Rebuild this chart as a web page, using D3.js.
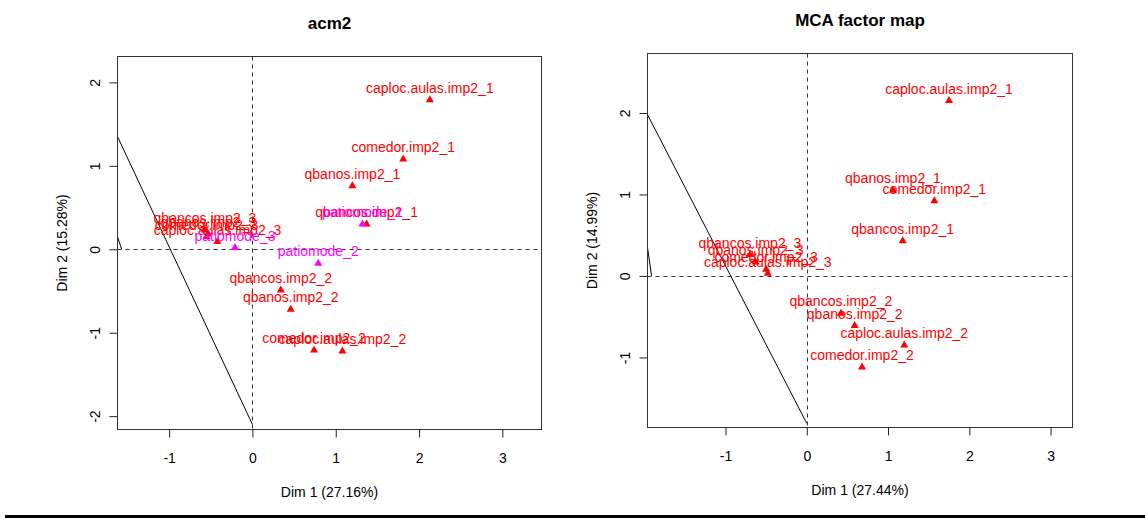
<!DOCTYPE html>
<html>
<head>
<meta charset="utf-8">
<script src="https://cdn.jsdelivr.net/npm/d3@7"></script>
<style>
  body { margin: 0; background: #fff; }
  svg { display: block; font-family: "Liberation Sans", Arial, sans-serif; }
</style>
</head>
<body>
<svg id="chart" width="1145" height="518"></svg>
<script>
// Two MCA factor maps side by side (active categories red, supplementary magenta)

const activeLabels = [
  "caploc.aulas.imp2_1", "caploc.aulas.imp2_2", "caploc.aulas.imp2_3",
  "comedor.imp2_1", "comedor.imp2_2", "comedor.imp2_3",
  "qbanos.imp2_1", "qbanos.imp2_2", "qbanos.imp2_3",
  "qbancos.imp2_1", "qbancos.imp2_2", "qbancos.imp2_3"
]
const supLabels = ["patiomode_1", "patiomode_2", "patiomode_3"]

// left panel: acm2
const acm2Dim1 = [2.13, 1.08, -0.42, 1.81, 0.74, -0.55, 1.20, 0.46, -0.53, 1.37, 0.34, -0.57]
const acm2Dim2 = [1.79, -1.22, 0.09, 1.08, -1.21, 0.15, 0.76, -0.72, 0.18, 0.30, -0.49, 0.23]
const acm2SupDim1 = [1.32, 0.79, -0.21]
const acm2SupDim2 = [0.30, -0.17, 0.02]

// right panel: MCA factor map
const mcaDim1 = [1.75, 1.20, -0.48, 1.57, 0.68, -0.50, 1.06, 0.59, -0.63, 1.18, 0.42, -0.70]
const mcaDim2 = [2.15, -0.85, 0.03, 0.92, -1.12, 0.08, 1.05, -0.61, 0.17, 0.43, -0.46, 0.26]

// stray black segments, in data units [x1, y1, x2, y2]
const acm2Segments = [[-1.62, 1.35, 0, -2.1], [-1.62, 0.15, -1.57, 0]]
const mcaSegments = [[-1.96, 1.98, 0, -1.81], [-1.96, 0.35, -1.91, 0]]

const acm2XTicks = [-1, 0, 1, 2, 3]
const acm2YTicks = [-2, -1, 0, 1, 2]
const mcaXTicks = [-1, 0, 1, 2, 3]
const mcaYTicks = [-1, 0, 1, 2]

const svg = d3.select("#chart")

function zip(labels, xs, ys) {
  return labels.map((label, i) => ({ label, x: xs[i], y: ys[i] }))
}

function drawPanel(p) {
  const g = svg.append("g")
  const x = d3.scaleLinear().domain(p.xLim).range([p.box.left, p.box.right])
  const y = d3.scaleLinear().domain(p.yLim).range([p.box.bottom, p.box.top])

  const clipId = "clip-" + p.id
  g.append("clipPath").attr("id", clipId)
    .append("rect")
    .attr("x", p.box.left).attr("y", p.box.top)
    .attr("width", p.box.right - p.box.left)
    .attr("height", p.box.bottom - p.box.top)

  const plot = g.append("g").attr("clip-path", `url(#${clipId})`)

  // dashed reference axes through the origin
  plot.append("line")
    .attr("x1", p.box.left).attr("x2", p.box.right)
    .attr("y1", Math.round(y(0)) + 0.5).attr("y2", Math.round(y(0)) + 0.5)
    .attr("stroke", "#333").attr("stroke-dasharray", "4,4")
  plot.append("line")
    .attr("x1", Math.round(x(0)) + 0.5).attr("x2", Math.round(x(0)) + 0.5)
    .attr("y1", p.box.top).attr("y2", p.box.bottom)
    .attr("stroke", "#333").attr("stroke-dasharray", "4,4")

  plot.selectAll(".seg")
    .data(p.segments)
    .enter()
    .append("line")
    .attr("x1", d => x(d[0])).attr("y1", d => y(d[1]))
    .attr("x2", d => x(d[2])).attr("y2", d => y(d[3]))
    .attr("stroke", "#000").attr("stroke-width", 1)

  const tri = d3.symbol().type(d3.symbolTriangle).size(28)

  p.groups.forEach(grp => {
    plot.selectAll(null)
      .data(grp.data)
      .enter()
      .append("path")
      .attr("d", tri)
      .attr("transform", d => `translate(${x(d.x)},${y(d.y)})`)
      .attr("fill", grp.color)
    g.selectAll(null)
      .data(grp.data)
      .enter()
      .append("text")
      .attr("x", d => x(d.x))
      .attr("y", d => y(d.y) - 7)
      .attr("text-anchor", "middle")
      .attr("font-size", 14)
      .attr("fill", grp.color)
      .text(d => d.label)
  })

  // box
  g.append("rect")
    .attr("x", p.box.left).attr("y", p.box.top)
    .attr("width", p.box.right - p.box.left)
    .attr("height", p.box.bottom - p.box.top)
    .attr("fill", "none").attr("stroke", "#333")

  // x axis
  g.append("g")
    .attr("transform", `translate(0,${p.box.bottom})`)
    .call(d3.axisBottom(x).tickValues(p.xTicks).tickSize(8).tickFormat(d => String(d)))
    .call(a => a.select(".domain").remove())
    .call(a => a.selectAll(".tick line").attr("stroke", "#222"))
    .call(a => a.selectAll("text")
      .attr("y", 24).attr("dy", "0.71em")
      .attr("font-size", 14).attr("font-family", "Liberation Sans, Arial, sans-serif")
      .attr("fill", "#000"))

  // y axis, labels parallel to the axis as in base R
  g.append("g")
    .attr("transform", `translate(${p.box.left},0)`)
    .call(d3.axisLeft(y).tickValues(p.yTicks).tickSize(8).tickFormat(d => String(d)))
    .call(a => a.select(".domain").remove())
    .call(a => a.selectAll(".tick line").attr("stroke", "#222"))
    .call(a => a.selectAll("text")
      .attr("transform", "rotate(-90)")
      .attr("x", 0).attr("y", -18).attr("dy", 0)
      .attr("text-anchor", "middle")
      .attr("font-size", 14).attr("font-family", "Liberation Sans, Arial, sans-serif")
      .attr("fill", "#000"))

  const cx = (p.box.left + p.box.right) / 2
  const cy = (p.box.top + p.box.bottom) / 2

  g.append("text")
    .attr("x", cx).attr("y", p.box.top - 28)
    .attr("text-anchor", "middle")
    .attr("font-size", 17).attr("font-weight", "bold")
    .text(p.title)

  g.append("text")
    .attr("x", cx).attr("y", p.box.bottom + 67)
    .attr("text-anchor", "middle")
    .attr("font-size", 14)
    .text(p.xTitle)

  g.append("text")
    .attr("transform", `translate(${p.box.left - 51},${cy}) rotate(-90)`)
    .attr("text-anchor", "middle")
    .attr("font-size", 14)
    .text(p.yTitle)
}

drawPanel({
  id: "acm2",
  title: "acm2",
  xTitle: "Dim 1 (27.16%)",
  yTitle: "Dim 2 (15.28%)",
  box: { left: 117.5, right: 541.5, top: 56.5, bottom: 429.5 },
  xLim: [-1.62, 3.47],
  yLim: [-2.16, 2.31],
  xTicks: acm2XTicks,
  yTicks: acm2YTicks,
  segments: acm2Segments,
  groups: [
    { color: "#ff0000", data: zip(activeLabels, acm2Dim1, acm2Dim2) },
    { color: "#ff00ff", data: zip(supLabels, acm2SupDim1, acm2SupDim2) }
  ]
})

drawPanel({
  id: "mca",
  title: "MCA factor map",
  xTitle: "Dim 1 (27.44%)",
  yTitle: "Dim 2 (14.99%)",
  box: { left: 647.5, right: 1072.5, top: 53.5, bottom: 427.5 },
  xLim: [-1.96, 3.27],
  yLim: [-1.86, 2.73],
  xTicks: mcaXTicks,
  yTicks: mcaYTicks,
  segments: mcaSegments,
  groups: [
    { color: "#ff0000", data: zip(activeLabels, mcaDim1, mcaDim2) }
  ]
})

// black rule along the bottom edge
svg.append("rect")
  .attr("x", 5).attr("y", 515)
  .attr("width", 1140).attr("height", 3)
  .attr("fill", "#000")
</script>
</body>
</html>
